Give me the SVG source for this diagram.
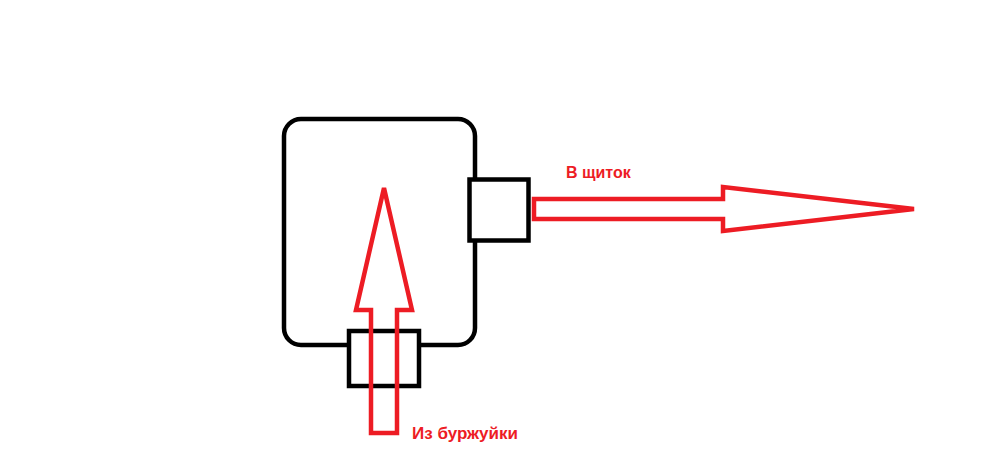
<svg xmlns="http://www.w3.org/2000/svg" width="987" height="475" viewBox="0 0 987 475">
<style>
.blk{fill:#fff;stroke:#000;stroke-width:4.5}
.red{fill:none;stroke:#ED1C24;stroke-width:4.5;stroke-linejoin:miter}
.lbl{font-family:"Liberation Sans",Arial,sans-serif;font-weight:bold;fill:#ED1C24}
</style>
<rect width="987" height="475" fill="#fff"/>
<g id="device">
<rect class="blk" x="284" y="119" width="191" height="226" rx="17"/>
</g>
<g id="outlet-right">
<rect class="blk" x="469.5" y="179.5" width="59" height="61"/>
</g>
<g id="inlet-bottom">
<rect class="blk" x="349" y="331" width="70" height="55"/>
</g>
<g id="connectors">
<polygon id="arrow-in" class="red" points="371,433 397,433 397,310 412,310 384,188 356,310 371,310"/>
<polygon id="arrow-out" class="red" points="534,199 723,199 723,187 914,209 723,231 723,219 534,219"/>
</g>
<g id="labels">
<text class="lbl" x="566" y="178" font-size="16">В щиток</text>
<text class="lbl" x="412" y="439" font-size="17">Из буржуйки</text>
</g>
</svg>
